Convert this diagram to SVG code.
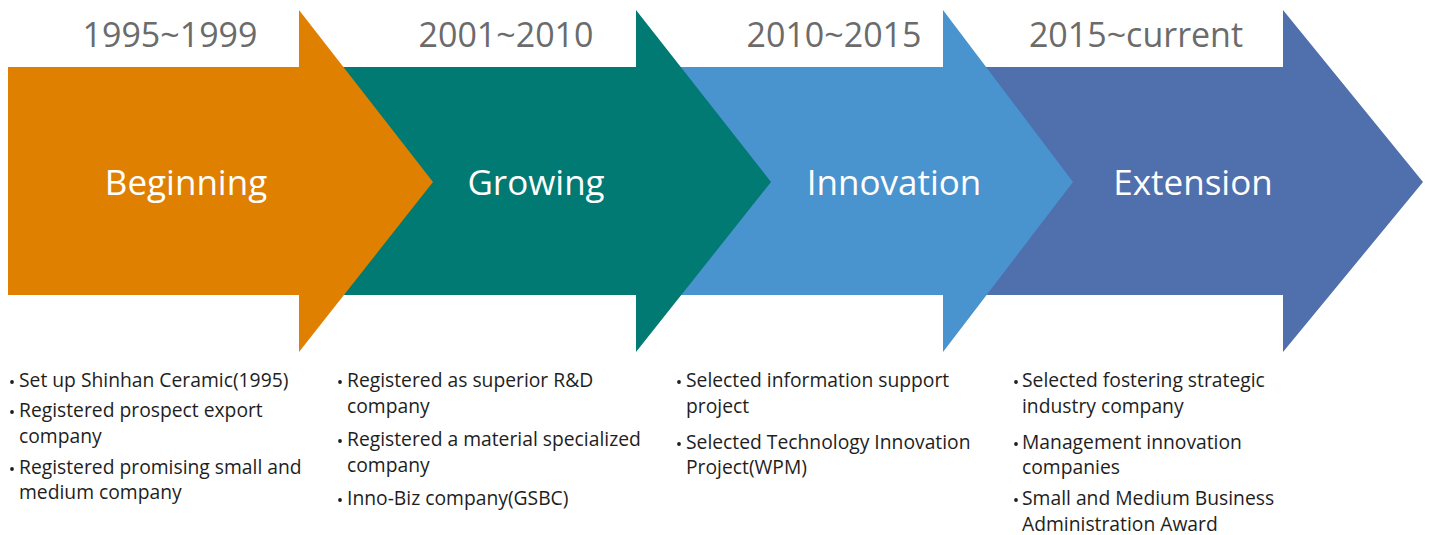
<svg xmlns="http://www.w3.org/2000/svg" width="1429" height="535" viewBox="0 0 1429 535">
<style>
.year{font-family:"Open Sans","Liberation Sans",sans-serif;font-size:34px;fill:#6b6b6b;text-anchor:middle}
.stage{font-family:"Open Sans","Liberation Sans",sans-serif;font-size:35px;fill:#ffffff;text-anchor:middle}
.item{font-family:"Open Sans","Liberation Sans",sans-serif;font-size:19.3px;fill:#1e1e1e}
.dot{fill:#1e1e1e}
</style>
<rect width="1429" height="535" fill="#ffffff"/>
<g id="extension">
<polygon points="944,67 1283,67 1283,10 1423,182 1283,352 1283,295 944,295" fill="#506FAD"/>
<text class="year" x="1136" y="47">2015~current</text>
<text class="stage" x="1193" y="195">Extension</text>
<circle class="dot" cx="1016" cy="382" r="1.9"/>
<text class="item" x="1022" y="387">Selected fostering strategic</text>
<text class="item" x="1022" y="413">industry company</text>
<circle class="dot" cx="1016" cy="444" r="1.9"/>
<text class="item" x="1022" y="449">Management innovation</text>
<text class="item" x="1022" y="474">companies</text>
<circle class="dot" cx="1016" cy="500" r="1.9"/>
<text class="item" x="1022" y="505">Small and Medium Business</text>
<text class="item" x="1022" y="531">Administration Award</text>
</g>
<g id="innovation">
<polygon points="636,67 943,67 943,10 1073,182 943,352 943,295 636,295" fill="#4993CF"/>
<text class="year" x="834" y="47">2010~2015</text>
<text class="stage" x="894" y="195">Innovation</text>
<circle class="dot" cx="679" cy="382" r="1.9"/>
<text class="item" x="686" y="387">Selected information support</text>
<text class="item" x="686" y="413">project</text>
<circle class="dot" cx="679" cy="444" r="1.9"/>
<text class="item" x="686" y="449">Selected Technology Innovation</text>
<text class="item" x="686" y="474">Project(WPM)</text>
</g>
<g id="growing">
<polygon points="299,67 636,67 636,10 771,182 636,352 636,295 299,295" fill="#007A72"/>
<text class="year" x="506" y="47">2001~2010</text>
<text class="stage" x="536" y="195">Growing</text>
<circle class="dot" cx="340" cy="382" r="1.9"/>
<text class="item" x="347" y="387">Registered as superior R&amp;D</text>
<text class="item" x="347" y="413">company</text>
<circle class="dot" cx="340" cy="441" r="1.9"/>
<text class="item" x="347" y="446">Registered a material specialized</text>
<text class="item" x="347" y="472">company</text>
<circle class="dot" cx="340" cy="500" r="1.9"/>
<text class="item" x="347" y="505">Inno-Biz company(GSBC)</text>
</g>
<g id="beginning">
<polygon points="8,67 299,67 299,10 433,182 299,352 299,295 8,295" fill="#E08000"/>
<text class="year" x="170" y="47">1995~1999</text>
<text class="stage" x="186" y="195">Beginning</text>
<circle class="dot" cx="12" cy="382" r="1.9"/>
<text class="item" x="19" y="387">Set up Shinhan Ceramic(1995)</text>
<circle class="dot" cx="12" cy="412" r="1.9"/>
<text class="item" x="19" y="417">Registered prospect export</text>
<text class="item" x="19" y="443">company</text>
<circle class="dot" cx="12" cy="469" r="1.9"/>
<text class="item" x="19" y="474">Registered promising small and</text>
<text class="item" x="19" y="499">medium company</text>
</g>
</svg>
